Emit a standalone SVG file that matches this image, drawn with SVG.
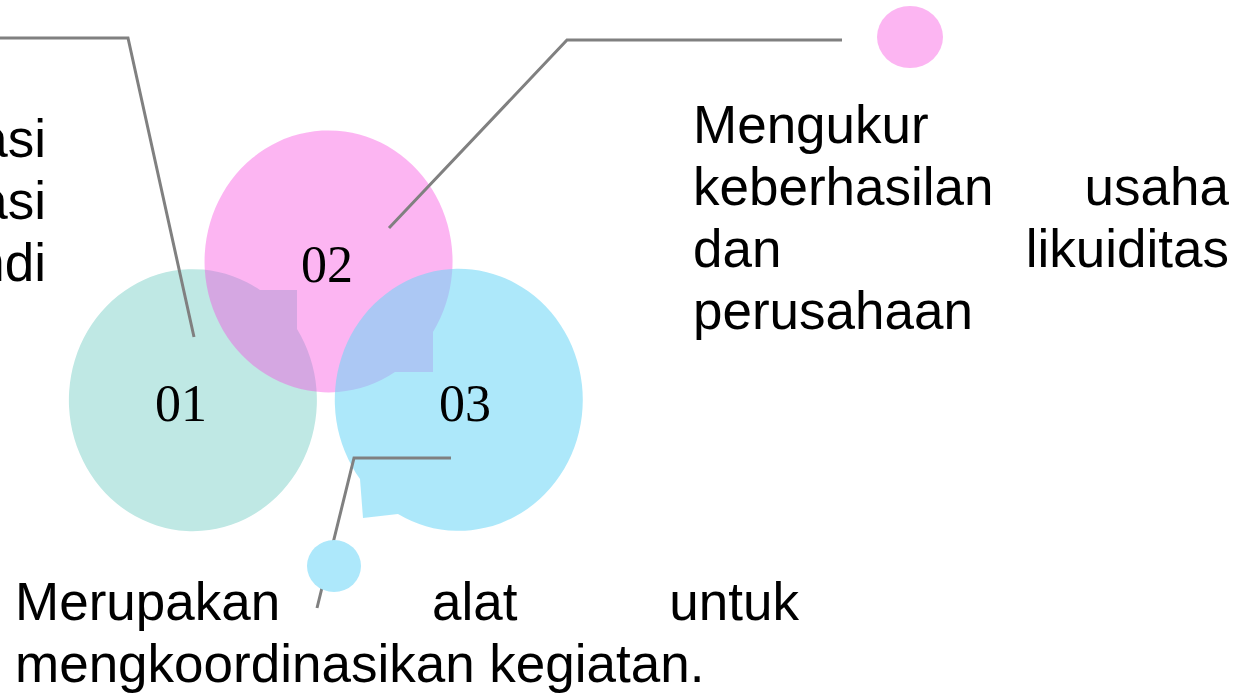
<svg xmlns="http://www.w3.org/2000/svg" width="1247" height="693" viewBox="0 0 1247 693">
<style>
.lbl{font-family:"Liberation Sans",Arial,sans-serif;font-size:53px;fill:#000}
.num{font-family:"Liberation Serif","Times New Roman",serif;font-size:52px;fill:#000;text-anchor:middle}
.ln{fill:none;stroke:#808080;stroke-width:3}
</style>
<rect width="1247" height="693" fill="#fff"/>
<g id="node01">
<path d="M260,290 L297,290 L297,329 A124 131 0 1 1 260,290 Z" fill="#BFE8E4"/>
</g>
<g id="node02">
<path d="M433,332 L433,372 L395,372 A124 131 0 1 1 433,332 Z" fill="#F746DE" fill-opacity="0.4"/>
</g>
<g id="node03">
<path d="M398,514 L363,518 L360,479 A124 131 0 1 1 398,514 Z" fill="#6FD6F7" fill-opacity="0.57"/>
</g>
<text class="num" x="181" y="421">01</text>
<text class="num" x="327" y="282">02</text>
<text class="num" x="465" y="421">03</text>
<g id="connectors">
<polyline class="ln" points="0,38 128,38 194,337"/>
<polyline class="ln" points="389,228 567,40 842,40"/>
<polyline class="ln" points="451,458 354,458 317,608"/>
</g>
<g id="dot-pink"><ellipse cx="910" cy="37" rx="33" ry="31" fill="#FCB5F2"/></g>
<g id="dot-blue"><ellipse cx="334" cy="566" rx="27" ry="26" fill="#ADE8FB"/></g>
<g id="text-left">
<text class="lbl" x="46" y="157" text-anchor="end">asi</text>
<text class="lbl" x="46" y="219" text-anchor="end">asi</text>
<text class="lbl" x="46" y="281" text-anchor="end">ndi</text>
</g>
<g id="text-right">
<text class="lbl" x="693" y="143">Mengukur</text>
<text class="lbl" x="693" y="205">keberhasilan</text>
<text class="lbl" x="1229" y="205" text-anchor="end">usaha</text>
<text class="lbl" x="693" y="267">dan</text>
<text class="lbl" x="1229" y="267" text-anchor="end">likuiditas</text>
<text class="lbl" x="693" y="329">perusahaan</text>
</g>
<g id="text-bottom">
<text class="lbl" x="15" y="620">Merupakan</text>
<text class="lbl" x="432" y="620">alat</text>
<text class="lbl" x="799" y="620" text-anchor="end">untuk</text>
<text class="lbl" x="15" y="682">mengkoordinasikan kegiatan.</text>
</g>
</svg>
